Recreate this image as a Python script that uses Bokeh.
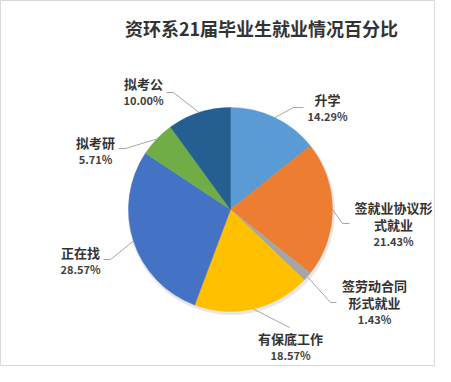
import math
from bokeh.plotting import figure
from bokeh.models import Range1d, ColumnDataSource
from bokeh.core.properties import value
from bokeh.embed import file_html
from bokeh.resources import INLINE

# ---- data ----
title = "资环系21届毕业生就业情况百分比"
labels = ["升学", "签就业协议形\n式就业", "签劳动合同\n形式就业", "有保底工作", "正在找", "拟考研", "拟考公"]
categories = [s.replace("\n", "") for s in labels]
percents = [14.29, 21.43, 1.43, 18.57, 28.57, 5.71, 10.00]
colors = ["#5B9BD5", "#ED7D31", "#A5A5A5", "#FFC000", "#4472C4", "#70AD47", "#255E91"]

# ---- layout (pixel coords of the reference, y downward) ----
W, H = 451, 382
CX, CY, R = 230, 209, 102
# label centre x, first line y
label_pos = [(327, 99), (393, 207), (374, 285), (290, 338), (80, 252), (95, 142), (143, 83)]
# leader elbow, end
leader_pts = [((293, 107), (303, 107)), ((342, 223), (349, 223)), ((330, 302), (336, 302)),
              ((289, 327), (289, 327)), ((110, 259), (103, 259)), ((125, 148), (118, 148)),
              ((173, 92), (166, 92))]
LINE_H = 16.5

def Y(y):
    return H - y

p = figure(width=435, height=366, x_range=Range1d(0, 435), y_range=Range1d(Y(366), Y(0)),
           output_backend="svg", toolbar_location=None, min_border=0)
p.axis.visible = False
p.grid.visible = False
p.outline_line_color = "#D9D9D9"
p.background_fill_color = "white"
p.border_fill_color = "white"

total = sum(percents)
starts, ends, mids = [], [], []
cum = 0.0
for v in percents:
    a0 = math.pi / 2 - 2 * math.pi * cum / total
    cum += v
    a1 = math.pi / 2 - 2 * math.pi * cum / total
    starts.append(a0)
    ends.append(a1)
    mids.append((a0 + a1) / 2)

# soft shadow
p.circle(x=[CX + 1], y=[Y(CY) - 2], radius=R + 1.5, fill_color="#D0D0D0", fill_alpha=0.5, line_color=None)

src = ColumnDataSource(dict(x=[CX] * len(percents), y=[Y(CY)] * len(percents), s=starts, e=ends,
                            c=colors, cat=categories, v=percents))
p.wedge(x="x", y="y", radius=R, start_angle="s", end_angle="e", direction="clock",
        fill_color="c", line_color="c", line_width=0.5, source=src)

# leader lines
for m, (el, en) in zip(mids, leader_pts):
    sx = CX + R * math.cos(m)
    sy = Y(CY) + R * math.sin(m)
    p.line(x=[sx, el[0], en[0]], y=[sy, Y(el[1]), Y(en[1])], line_color="#A6A6A6", line_width=1)

font = value("Noto Sans CJK SC")
# labels
for lab, v, (lx, ly) in zip(labels, percents, label_pos):
    lines = lab.split("\n")
    for i, ln in enumerate(lines):
        p.text(x=[lx], y=[Y(ly + i * LINE_H)], text=[ln], text_align="center", text_baseline="middle",
               text_font=font, text_font_style="bold", text_font_size="13px", text_color="#333333")
    p.text(x=[lx], y=[Y(ly + len(lines) * LINE_H)], text=["%.2f%%" % v], text_align="center",
           text_baseline="middle", text_font=font, text_font_style="bold", text_font_size="11px",
           text_color="#404040")

# title
p.text(x=[261], y=[Y(27)], text=[title], text_align="center", text_baseline="middle",
       text_font=font, text_font_style="bold", text_font_size="18px", text_color="#333333")

open("out.html", "w").write(file_html(p, INLINE))
